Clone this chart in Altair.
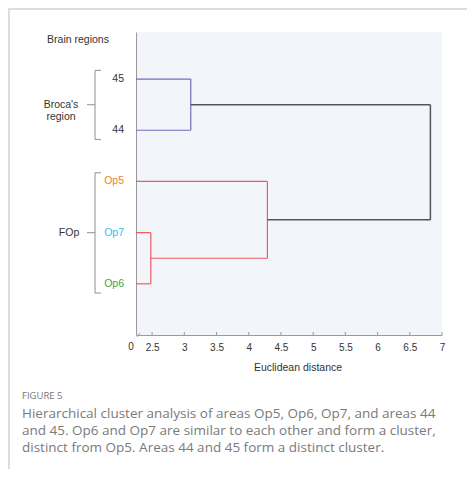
import altair as alt
import pandas as pd

# ---- data ----
leaves = ["45", "44", "Op5", "Op7", "Op6"]
leaf_colors = ["#333333", "#333333", "#f07f1e", "#2ec4e6", "#3aa64a"]
axis_start = 2.25  # broken axis: leaves sit at the axis origin ("0")

# merges: (left node, right node, distance, colour); nodes 0-4 are leaves
merge_left = [0, 3, 2, 5]
merge_right = [1, 4, 6, 7]
merge_height = [3.10, 2.48, 4.29, 6.82]
merge_color = ["#7a68c2", "#ee5a5e", "#ee5a5e", "#555555"]

tick_values = [2.5, 3, 3.5, 4, 4.5, 5, 5.5, 6, 6.5, 7]

groups = ["Broca's\nregion", "FOp"]
group_first = [1, 3]
group_last = [2, 5]

caption_title = "FIGURE 5"
caption_lines = [
    "Hierarchical cluster analysis of areas Op5, Op6, Op7, and areas 44",
    "and 45. Op6 and Op7 are similar to each other and form a cluster,",
    "distinct from Op5. Areas 44 and 45 form a distinct cluster.",
]

# ---- build dendrogram segments ----
node_y = [i + 1 for i in range(len(leaves))]
node_h = [axis_start] * len(leaves)
segs = []
for l, r, h, c in zip(merge_left, merge_right, merge_height, merge_color):
    sw = 1.5 if c == "#555555" else 1.2
    for ch in (l, r):
        segs.append(dict(x=node_h[ch], x2=h, y=node_y[ch], y2=node_y[ch], c=c, w=sw))
    segs.append(dict(x=h, x2=h, y=node_y[l], y2=node_y[r], c=c, w=sw))
    node_y.append((node_y[l] + node_y[r]) / 2)
    node_h.append(h)
seg_df = pd.DataFrame(segs)

xs = alt.Scale(domain=[axis_start, 7], nice=False, zero=False)
ys = alt.Scale(domain=[0.08, 6.0], reverse=True, nice=False, zero=False)

xaxis = alt.Axis(values=tick_values, labelExpr="format(datum.value, '~g')", ticks=False,
                 labelPadding=7, labelFontSize=10, labelColor="#333", title=None,
                 labelOverlap=False, labelFlush=False, labelBound=False,
                 domainColor="#9a9a9a", grid=False, labelFont="Liberation Sans")

dendro = alt.Chart(seg_df).mark_rule().encode(
    x=alt.X("x:Q", scale=xs, axis=xaxis),
    x2="x2:Q",
    y=alt.Y("y:Q", scale=ys, axis=alt.Axis(labels=False, ticks=False, grid=False,
                                           title=None, domainColor="#9a9a9a")),
    y2="y2:Q",
    color=alt.Color("c:N", scale=None),
    strokeWidth=alt.StrokeWidth("w:Q", scale=None),
)

ticks_df = pd.DataFrame({"x": tick_values})
ticks = alt.Chart(ticks_df).mark_rule(color="#9a9a9a", strokeWidth=1).encode(
    x=alt.X("x:Q", scale=xs, axis=xaxis), y=alt.value(300), y2=alt.value(303))

zero_df = pd.DataFrame({"x": [axis_start], "lab": ["0"]})
zero = alt.Chart(zero_df).mark_text(fontSize=10, font="Liberation Sans", color="#333",
                                    dx=-5, baseline="top").encode(
    x=alt.X("x:Q", scale=xs, axis=xaxis), y=alt.value(310), text="lab:N")

brk = alt.Chart(zero_df).mark_rule(color="#9a9a9a", strokeWidth=1).encode(
    x=alt.value(1), x2=alt.value(4), y=alt.value(305), y2=alt.value(301))

leaf_df = pd.DataFrame({"name": leaves, "y": list(range(1, len(leaves) + 1)),
                        "col": leaf_colors})
leaf_lab = alt.Chart(leaf_df).mark_text(align="right", fontSize=10.5,
                                        font="Liberation Sans").encode(
    x=alt.value(-12), y=alt.Y("y:Q", scale=ys), text="name:N",
    color=alt.Color("col:N", scale=None))

# brackets
br = []
for g, f, l in zip(groups, group_first, group_last):
    top, bot, mid = f - 0.17, l + 0.18, (f + l) / 2
    br.append(dict(x=-41, x2=-41, y=top, y2=bot))
    br.append(dict(x=-41, x2=-35, y=top, y2=top))
    br.append(dict(x=-41, x2=-35, y=bot, y2=bot))
    br.append(dict(x=-49, x2=-41, y=mid, y2=mid))
br_df = pd.DataFrame(br)
brackets = alt.Chart(br_df).mark_rule(color="#a0a0a0", strokeWidth=1.2).encode(
    x=alt.X("x:Q", scale=None), x2="x2:Q",
    y=alt.Y("y:Q", scale=ys), y2="y2:Q")

grp_df = pd.DataFrame({"g": groups,
                       "y": [(f + l) / 2 for f, l in zip(group_first, group_last)],
                       "px": [-75, -67]})
grp_lab = alt.Chart(grp_df).mark_text(fontSize=10.5, font="Liberation Sans",
                                      color="#333", lineBreak="\n",
                                      lineHeight=12).encode(
    x=alt.X("px:Q", scale=None), y=alt.Y("y:Q", scale=ys), text="g:N")

def label(txt, x, y, size=10, color="#333", font="Liberation Sans", align="center",
          weight="normal"):
    return alt.Chart(pd.DataFrame({"t": [txt]})).mark_text(
        fontSize=size, color=color, font=font, align=align, fontWeight=weight,
        baseline="middle").encode(x=alt.value(x), y=alt.value(y), text="t:N")

title_l = label("Brain regions", -58, 8, size=10.5)
xtitle = label("Euclidean distance", 162, 336, size=10.5)
cap_t = label(caption_title, -114, 363.5, size=9.5, color="#777", font="Open Sans",
              align="left")
cap_ls = [label(t, -114, 381.5 + 17 * i, size=13.5, color="#7a7a7a", font="Open Sans",
                align="left") for i, t in enumerate(caption_lines)]

frame_top = alt.Chart(zero_df).mark_rule(color="#dddddd", strokeWidth=2).encode(
    x=alt.value(-128), x2=alt.value(331), y=alt.value(-23))
frame_left = alt.Chart(zero_df).mark_rule(color="#dddddd", strokeWidth=2).encode(
    x=alt.value(-127), y=alt.value(-24), y2=alt.value(437))

chart = alt.layer(
    dendro, ticks, zero, brk, leaf_lab, brackets, grp_lab, title_l, xtitle, cap_t,
    *cap_ls, frame_top, frame_left
).properties(
    width=306, height=303, autosize="none",
    padding={"left": 128, "top": 24, "right": 25, "bottom": 134},
    background="white",
).configure_view(fill="#f2f6fb", stroke=None).configure_axis(
    labelOverlap=False, labelFlush=False)

chart.save("out.html", embed_options={"renderer": "svg", "actions": False})
